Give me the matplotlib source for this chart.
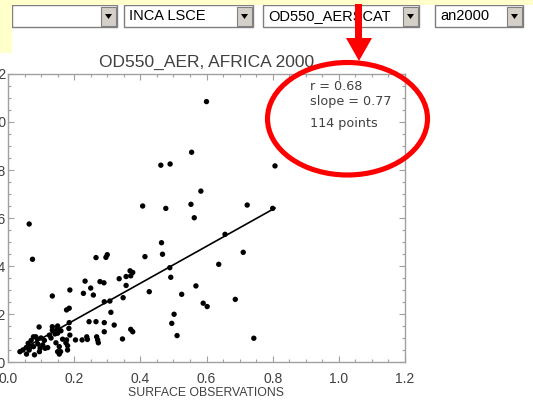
import matplotlib
matplotlib.use("Agg")
import matplotlib.pyplot as plt
from matplotlib.patches import Rectangle, Ellipse, Polygon
from matplotlib.ticker import MultipleLocator

plt.rcParams['font.family'] = ['Liberation Sans', 'DejaVu Sans']

# surface observations (x) vs model OD550 (y)
obs = [0.600, 0.555, 0.462, 0.490, 0.583, 0.407, 0.477, 0.553, 0.723, 0.563,
       0.064, 0.807, 0.800, 0.656, 0.464, 0.467, 0.414, 0.074, 0.266, 0.296,
       0.300, 0.711, 0.637, 0.489, 0.492, 0.369, 0.377, 0.371, 0.357, 0.336,
       0.357, 0.348, 0.233, 0.250, 0.228, 0.258, 0.278, 0.290, 0.187, 0.134,
       0.427, 0.525, 0.568, 0.687, 0.590, 0.602, 0.291, 0.308, 0.185, 0.177,
       0.311, 0.502, 0.245, 0.266, 0.291, 0.321, 0.495, 0.185, 0.094, 0.134,
       0.149, 0.184, 0.371, 0.377, 0.291, 0.134, 0.187, 0.125, 0.142, 0.204,
       0.224, 0.238, 0.240, 0.268, 0.271, 0.273, 0.346, 0.511, 0.743, 0.177,
       0.175, 0.180, 0.180, 0.155, 0.159, 0.155, 0.150, 0.077, 0.084, 0.089,
       0.105, 0.112, 0.061, 0.069, 0.064, 0.036, 0.056, 0.077, 0.097, 0.095,
       0.120, 0.090, 0.100, 0.150, 0.160, 0.145, 0.055, 0.080, 0.045, 0.130,
       0.110, 0.165, 0.070, 0.150]
model = [1.085, 0.874, 0.820, 0.825, 0.712, 0.650, 0.640, 0.657, 0.654, 0.601,
         0.575, 0.817, 0.640, 0.532, 0.497, 0.449, 0.439, 0.428, 0.435, 0.436,
         0.447, 0.457, 0.407, 0.393, 0.353, 0.380, 0.373, 0.359, 0.356, 0.347,
         0.319, 0.268, 0.337, 0.308, 0.286, 0.279, 0.335, 0.330, 0.300, 0.275,
         0.293, 0.282, 0.317, 0.261, 0.245, 0.231, 0.251, 0.254, 0.224, 0.217,
         0.207, 0.199, 0.168, 0.168, 0.164, 0.154, 0.161, 0.164, 0.146, 0.147,
         0.137, 0.140, 0.136, 0.126, 0.126, 0.133, 0.112, 0.112, 0.117, 0.092,
         0.092, 0.105, 0.094, 0.105, 0.092, 0.080, 0.096, 0.110, 0.099, 0.092,
         0.080, 0.068, 0.050, 0.064, 0.043, 0.033, 0.043, 0.105, 0.105, 0.095,
         0.071, 0.057, 0.078, 0.064, 0.050, 0.043, 0.033, 0.064, 0.057, 0.043,
         0.060, 0.075, 0.100, 0.120, 0.130, 0.080, 0.060, 0.030, 0.050, 0.100,
         0.090, 0.095, 0.090, 0.150]
r_value = 0.68
slope = 0.77
intercept = 0.02
n_points = 114

W, H = 533, 403
fig = plt.figure(figsize=(W / 100, H / 100), dpi=100)
fig.patch.set_facecolor('white')

def fx(px):
    return px / W

def fy(py):
    return 1 - py / H

def rect(x0, y0, x1, y1, **kw):
    r = Rectangle((fx(x0), fy(y1)), fx(x1) - fx(x0), fy(y0) - fy(y1),
                  transform=fig.transFigure, **kw)
    fig.add_artist(r)

def dropdown(x0, x1, label):
    rect(x0, 5, x1, 27, fc='white', ec='#7f7f7f', lw=1)
    rect(x1 - 16, 7, x1 - 1, 26, fc='#d4d0c8', ec='#808080', lw=0.8)
    cx = x1 - 8.5
    tri = Polygon([(fx(cx - 3.5), fy(14)), (fx(cx + 3.5), fy(14)), (fx(cx), fy(19))],
                  closed=True, transform=fig.transFigure, fc='black', ec='none')
    fig.add_artist(tri)
    if label:
        fig.text(fx(x0 + 5), fy(16.5), label, fontsize=10.5, va='center',
                 ha='left', color='black')

dropdown(12, 117, '')
dropdown(124, 253, 'INCA LSCE')
dropdown(263, 419, 'OD550_AERSCAT')
dropdown(435, 523, 'an2000')

# page background bits (yellow frame of the web page)
yellow = '#ffffcc'
rect(0, 0, 533, 4.5, fc=yellow, ec='none')
rect(0, 0, 12, 53, fc=yellow, ec='none')

# scatter plot
ax = fig.add_axes([fx(8), fy(362), fx(405) - fx(8), fy(74) - fy(362)])
ax.scatter(obs, model, s=15, c='black', edgecolors='none', zorder=3)
x0, x1 = min(obs), max(obs)
ax.plot([x0, x1], [intercept + slope * x0, intercept + slope * x1],
        color='black', lw=1.2, zorder=2)

ax.set_xlim(0, 1.2)
ax.set_ylim(0, 1.2)
ax.xaxis.set_major_locator(MultipleLocator(0.2))
ax.yaxis.set_major_locator(MultipleLocator(0.2))
ax.xaxis.set_minor_locator(MultipleLocator(0.05))
ax.yaxis.set_minor_locator(MultipleLocator(0.05))
ax.xaxis.set_major_formatter(lambda v, p: f'{v:.1f}')
ax.yaxis.set_major_formatter(lambda v, p: f'{v:.1f}')
ax.tick_params(which='both', direction='in', top=True, right=True,
               color='#a0a0a0', labelcolor='#404040', labelsize=10)
ax.tick_params(which='major', length=4, width=0.8)
ax.tick_params(which='minor', length=2.5, width=0.8)
ax.tick_params(axis='x', pad=7.5)
ax.tick_params(axis='y', pad=1.5)
for s in ax.spines.values():
    s.set_color('#a0a0a0')
    s.set_linewidth(1)

ax.set_title('OD550_AER, AFRICA 2000', fontsize=12.5, color='#404040', pad=5)
ax.set_xlabel('SURFACE OBSERVATIONS', fontsize=8.8, color='#404040', labelpad=0.5)

stats_x = (310 - 8) / 397
stats_font = dict(family='DejaVu Sans', fontsize=9.2, color='#404040',
                  va='center', ha='left', transform=ax.transAxes)
ax.text(stats_x, (362 - 87) / 288, f'r = {r_value:.2f}', **stats_font)
ax.text(stats_x, (362 - 102) / 288, f'slope = {slope:.2f}', **stats_font)
ax.text(stats_x, (362 - 123) / 288, f'{n_points} points', **stats_font)

# red annotation: arrow and ellipse
red = '#ff0000'
rect(355, 4, 362, 40, fc=red, ec='none', zorder=10)
head = Polygon([(fx(346), fy(38)), (fx(372), fy(38)), (fx(359), fy(61))],
               closed=True, transform=fig.transFigure, fc=red, ec='none', zorder=10)
fig.add_artist(head)
ell = Ellipse((fx(347.5), fy(118.75)), 160 / W, 112.5 / H, transform=fig.transFigure,
              fill=False, ec=red, lw=3.7, zorder=10)
fig.add_artist(ell)

fig.savefig('out.png', dpi=100)
